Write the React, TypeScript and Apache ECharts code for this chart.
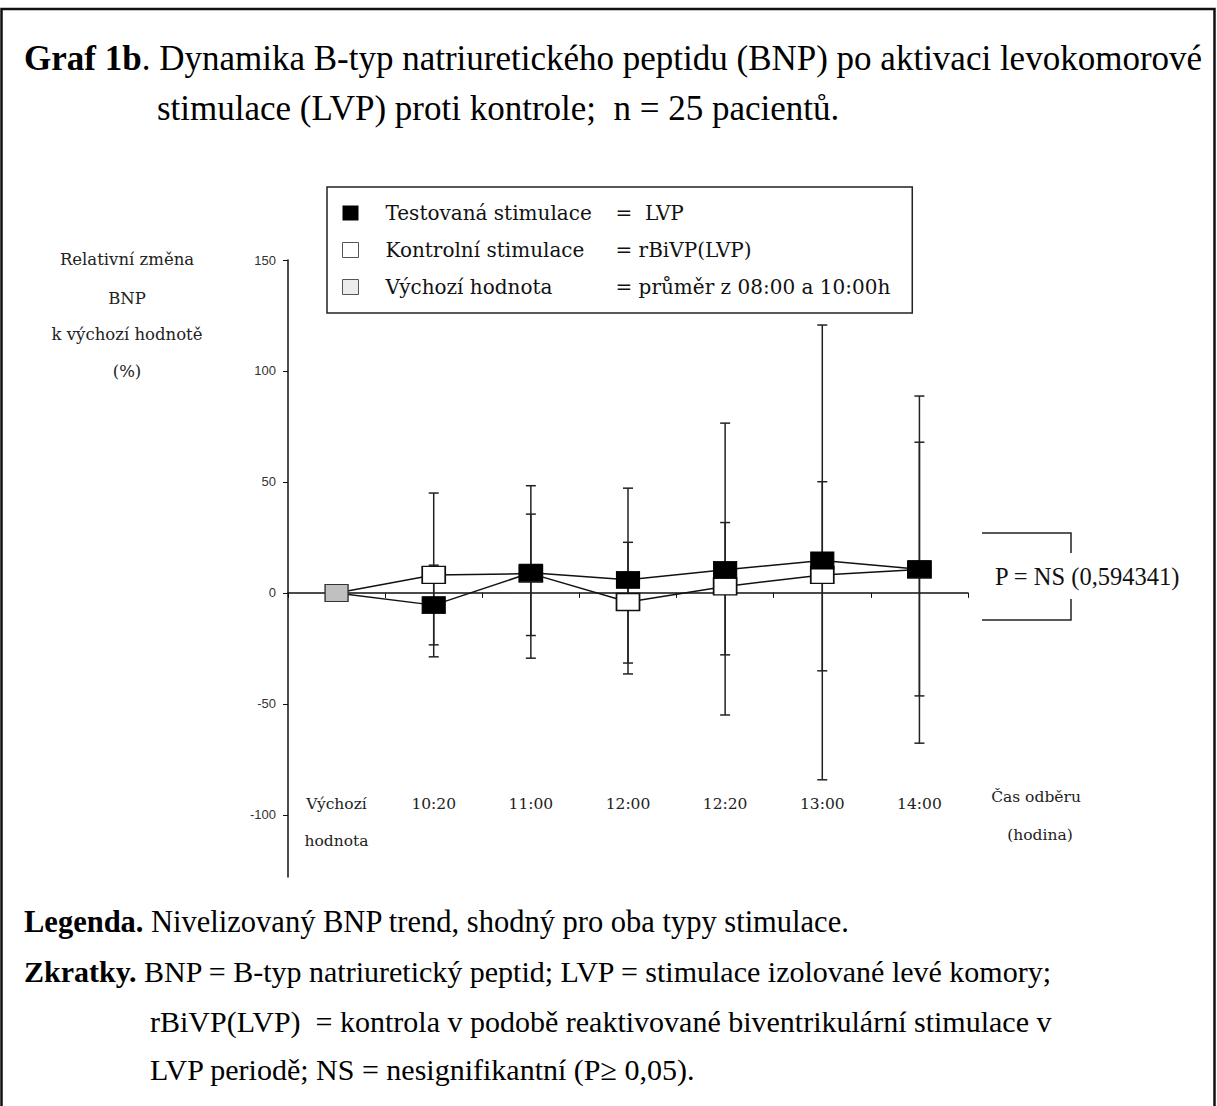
import React, { useEffect, useRef } from "react";
import * as echarts from "echarts";

const categories = ["Výchozí\nhodnota", "10:20", "11:00", "12:00", "12:20", "13:00", "14:00"];
const seriesNames = ["Testovaná stimulace", "Kontrolní stimulace", "Výchozí hodnota"];
const legendRight = ["=  LVP", "= rBiVP(LVP)", "= průměr z 08:00 a 10:00h"];
const testedValues = [0, -5.5, 9.1, 5.9, 10.4, 14.6, 10.7];
const controlValues = [0, 8.1, 8.7, -4.1, 2.9, 8.1, 10.5];
const baselineValues = [0, null, null, null, null, null, null];
// [category index, low, high]
const testedErr = [
  [1, -23.4, 12.5],
  [2, -29.4, 48.3],
  [3, -36.5, 47.2],
  [4, -55, 76.5],
  [5, -84.2, 120.7],
  [6, -67.7, 88.7],
];
const controlErr = [
  [1, -28.8, 45],
  [2, -19.2, 35.5],
  [3, -31.6, 22.8],
  [4, -27.9, 31.7],
  [5, -35.1, 50.1],
  [6, -46.4, 67.9],
];
const yTicks = [-100, -50, 0, 50, 100, 150];
const yTitleLines = ["Relativní změna", "BNP", "k výchozí hodnotě", "(%)"];
const xTitleLines = ["Čas odběru", "(hodina)"];
const pText = "P = NS (0,594341)";

const SERIF = "'Liberation Serif', 'Times New Roman', serif";
const DSERIF = "'DejaVu Serif', serif";

function errRender(params: any, api: any) {
  const x = api.value(0);
  const lo = api.coord([x, api.value(1)]);
  const hi = api.coord([x, api.value(2)]);
  const w = 5;
  const st = { stroke: "#222", lineWidth: 1.5 };
  return {
    type: "group",
    children: [
      { type: "line", shape: { x1: lo[0], y1: lo[1], x2: hi[0], y2: hi[1] }, style: st },
      { type: "line", shape: { x1: lo[0] - w, y1: lo[1], x2: lo[0] + w, y2: lo[1] }, style: st },
      { type: "line", shape: { x1: hi[0] - w, y1: hi[1], x2: hi[0] + w, y2: hi[1] }, style: st },
    ],
  };
}

export default function App() {
  const ref = useRef<HTMLDivElement>(null);
  useEffect(() => {
    if (!ref.current) return;
    const chart = echarts.init(ref.current, null, { renderer: "svg" });
    const firstNoSymbol = (arr: number[]) =>
      arr.map((v, i) => (i === 0 ? { value: v, symbol: "none" } : v));
    const option: any = {
      animation: false,
      backgroundColor: "#fff",
      grid: [
        { left: 288, top: 260, width: 680, height: 617 },
        { left: 288, top: 700, width: 680, height: 85 },
      ],
      xAxis: [
        {
          type: "category",
          gridIndex: 0,
          data: categories,
          boundaryGap: true,
          axisLine: { onZero: true, lineStyle: { color: "#111", width: 1.5 } },
          axisTick: { show: true, length: 5, lineStyle: { color: "#111", width: 1 } },
          axisLabel: { show: false },
          splitLine: { show: false },
        },
        {
          type: "category",
          gridIndex: 1,
          data: categories,
          boundaryGap: true,
          axisLine: { show: false },
          axisTick: { show: false },
          axisLabel: {
            margin: 0,
            fontFamily: DSERIF,
            fontSize: 15.5,
            lineHeight: 37,
            color: "#222",
          },
        },
      ],
      yAxis: [
        {
          type: "value",
          gridIndex: 0,
          min: -128,
          max: 150,
          axisLine: { show: true, lineStyle: { color: "#111", width: 1.5 } },
          axisTick: { show: true, length: 5, customValues: yTicks, lineStyle: { color: "#111" } },
          axisLabel: {
            customValues: yTicks,
            margin: 12,
            fontFamily: "'Liberation Sans', Arial, sans-serif",
            fontSize: 13,
            color: "#333",
          },
          splitLine: { show: false },
        },
        { type: "value", gridIndex: 1, show: false },
      ],
      legend: {
        orient: "vertical",
        left: 327,
        top: 187,
        padding: [15, 22, 15, 15],
        itemGap: 15,
        itemWidth: 16,
        itemHeight: 15,
        borderColor: "#222",
        borderWidth: 1.5,
        backgroundColor: "#fff",
        data: [
          { name: seriesNames[0], icon: "rect", itemStyle: { color: "#000", borderWidth: 0 } },
          { name: seriesNames[1], icon: "rect", itemStyle: { color: "#fff", borderColor: "#555", borderWidth: 1 } },
          { name: seriesNames[2], icon: "rect", itemStyle: { color: "#ececec", borderColor: "#555", borderWidth: 1 } },
        ],
        formatter: (name: string) => {
          const i = seriesNames.indexOf(name);
          return `{s|}{a|${name}}{b|${legendRight[i]}}`;
        },
        textStyle: {
          fontFamily: DSERIF,
          fontSize: 20,
          color: "#111",
          lineHeight: 22,
          rich: {
            s: { width: 22 },
            a: { width: 230, fontFamily: DSERIF, fontSize: 20, color: "#111" },
            b: { fontFamily: DSERIF, fontSize: 20, color: "#111" },
          },
        },
      },
      series: [
        {
          name: "errControl",
          type: "custom",
          xAxisIndex: 0,
          yAxisIndex: 0,
          data: controlErr,
          encode: { x: 0, y: [1, 2] },
          renderItem: errRender,
          z: 2,
          silent: true,
        },
        {
          name: "errTested",
          type: "custom",
          xAxisIndex: 0,
          yAxisIndex: 0,
          data: testedErr,
          encode: { x: 0, y: [1, 2] },
          renderItem: errRender,
          z: 2,
          silent: true,
        },
        {
          name: seriesNames[1],
          type: "line",
          data: firstNoSymbol(controlValues),
          symbol: "rect",
          symbolSize: [23, 17],
          showAllSymbol: true,
          itemStyle: { color: "#fff", borderColor: "#111", borderWidth: 1.5 },
          lineStyle: { color: "#111", width: 1.5 },
          z: 3,
        },
        {
          name: seriesNames[0],
          type: "line",
          data: firstNoSymbol(testedValues),
          symbol: "rect",
          symbolSize: [23, 17],
          showAllSymbol: true,
          itemStyle: { color: "#000", borderColor: "#000", borderWidth: 1 },
          lineStyle: { color: "#111", width: 1.5 },
          z: 4,
        },
        {
          name: seriesNames[2],
          type: "line",
          data: baselineValues.map((v) => (v === null ? "-" : v)),
          symbol: "rect",
          symbolSize: [23, 17],
          itemStyle: { color: "#c0c0c0", borderColor: "#333", borderWidth: 1.2 },
          lineStyle: { width: 0 },
          z: 5,
        },
      ],
      graphic: [
        {
          type: "rect",
          shape: { x: 1.5, y: 9, width: 1213, height: 1120 },
          style: { fill: "none", stroke: "#111", lineWidth: 2.5 },
        },
        {
          type: "text",
          x: 24,
          y: 58,
          style: {
            text: "{b|Graf 1b}{n|. Dynamika B-typ natriuretického peptidu (BNP) po aktivaci levokomorové}",
            verticalAlign: "middle",
            rich: {
              b: { fontFamily: SERIF, fontSize: 35, fontWeight: "bold", fill: "#000" },
              n: { fontFamily: SERIF, fontSize: 35, fill: "#000" },
            },
          },
        },
        {
          type: "text",
          x: 157,
          y: 108,
          style: {
            text: "stimulace (LVP) proti kontrole;  n = 25 pacientů.",
            fontFamily: SERIF,
            fontSize: 35,
            fill: "#000",
            verticalAlign: "middle",
          },
        },
        ...yTitleLines.map((t, i) => ({
          type: "text",
          x: 127,
          y: [259, 298, 334, 371][i],
          style: {
            text: t,
            fontFamily: DSERIF,
            fontSize: 16.5,
            fill: "#222",
            align: "center",
            verticalAlign: "middle",
          },
        })),
        ...xTitleLines.map((t, i) => ({
          type: "text",
          x: [1036, 1040][i],
          y: [797, 835][i],
          style: {
            text: t,
            fontFamily: DSERIF,
            fontSize: 15.5,
            fill: "#222",
            align: "center",
            verticalAlign: "middle",
          },
        })),
        {
          type: "polyline",
          shape: { points: [[982, 533], [1071, 533], [1071, 553]] },
          style: { stroke: "#222", lineWidth: 1.5, fill: "none" },
        },
        {
          type: "polyline",
          shape: { points: [[1071, 599], [1071, 620], [982, 620]] },
          style: { stroke: "#222", lineWidth: 1.5, fill: "none" },
        },
        {
          type: "text",
          x: 995,
          y: 576,
          style: {
            text: pText,
            fontFamily: SERIF,
            fontSize: 24.5,
            fill: "#111",
            verticalAlign: "middle",
          },
        },
        {
          type: "text",
          x: 24,
          y: 922,
          style: {
            text: "{b|Legenda.}{n| Nivelizovaný BNP trend, shodný pro oba typy stimulace.}",
            verticalAlign: "middle",
            rich: {
              b: { fontFamily: SERIF, fontSize: 30.5, fontWeight: "bold", fill: "#000" },
              n: { fontFamily: SERIF, fontSize: 30.5, fill: "#000" },
            },
          },
        },
        {
          type: "text",
          x: 24,
          y: 971,
          style: {
            text: "{b|Zkratky.}{n| BNP = B-typ natriuretický peptid; LVP = stimulace izolované levé komory;}",
            verticalAlign: "middle",
            rich: {
              b: { fontFamily: SERIF, fontSize: 30, fontWeight: "bold", fill: "#000" },
              n: { fontFamily: SERIF, fontSize: 30, fill: "#000" },
            },
          },
        },
        {
          type: "text",
          x: 150,
          y: 1021,
          style: {
            text: "rBiVP(LVP)  = kontrola v podobě reaktivované biventrikulární stimulace v",
            fontFamily: SERIF,
            fontSize: 30,
            fill: "#000",
            verticalAlign: "middle",
          },
        },
        {
          type: "text",
          x: 150,
          y: 1069,
          style: {
            text: "LVP periodě; NS = nesignifikantní (P≥ 0,05).",
            fontFamily: SERIF,
            fontSize: 30,
            fill: "#000",
            verticalAlign: "middle",
          },
        },
      ],
    };
    chart.setOption(option);
    return () => chart.dispose();
  }, []);
  return (
    <div
      ref={ref}
      style={{ position: "absolute", left: 0, top: 0, width: 1217, height: 1106, background: "#fff" }}
    />
  );
}
